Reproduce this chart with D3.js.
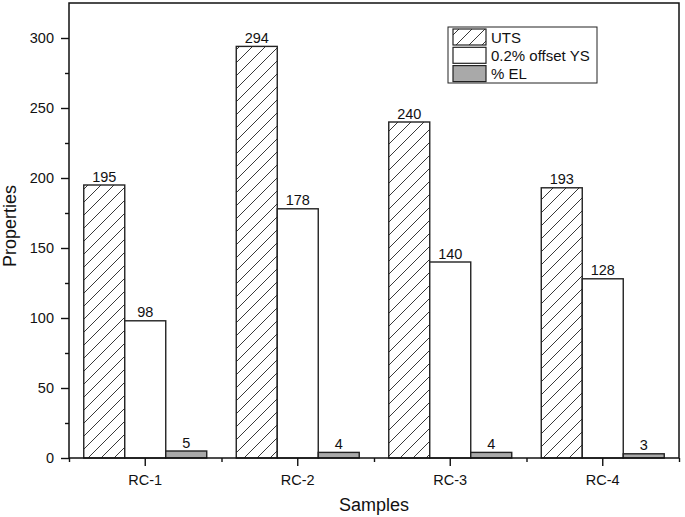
<!DOCTYPE html>
<html lang="en">
<head>
  <meta charset="UTF-8">
  <title>Properties by Sample</title>
  <script src="https://d3js.org/d3.v7.min.js"></script>
  <style>
    body {
      margin: 0;
      background: #fff;
      font-family: 'Liberation Sans', Arial, sans-serif;
    }
    .tick text { font-size: 14.5px; fill: #111; }
    .val { font-size: 14.5px; fill: #111; }
    .title { font-size: 18px; fill: #111; }
  </style>
</head>
<body>
<svg width="685" height="517"></svg>
<script>
  const samples = ["RC-1", "RC-2", "RC-3", "RC-4"];
  const seriesNames = ["UTS", "0.2% offset YS", "% EL"];
  const uts = [195, 294, 240, 193];
  const ys = [98, 178, 140, 128];
  const el = [5, 4, 4, 3];
  const yTicks = [0, 50, 100, 150, 200, 250, 300];

  const values = [uts, ys, el];
  const rows = [];
  samples.forEach((s, i) => {
    seriesNames.forEach((n, j) => rows.push({ sample: s, series: n, value: values[j][i] }));
  });

  const svg = d3.select("svg");
  const plot = { left: 69, right: 679, top: 3, bottom: 458 };

  // hatch pattern for UTS
  const defs = svg.append("defs");
  const pat = defs.append("pattern")
    .attr("id", "hatch")
    .attr("patternUnits", "userSpaceOnUse")
    .attr("width", 13)
    .attr("height", 13);
  pat.append("rect").attr("width", 13).attr("height", 13).attr("fill", "#fff");
  pat.append("path")
    .attr("d", "M-1,1 l2,-2 M0,13 l13,-13 M12,14 l2,-2")
    .attr("stroke", "#222")
    .attr("stroke-width", 0.9);

  const fills = { "UTS": "url(#hatch)", "0.2% offset YS": "#fff", "% EL": "#a9a9a9" };

  const x = d3.scaleBand().domain(samples).range([plot.left, plot.right]);
  const xi = d3.scaleBand().domain(seriesNames).range([0, x.bandwidth()]).paddingOuter(0.36);
  const y = d3.scaleLinear().domain([0, 325]).range([plot.bottom, plot.top]);

  // bars
  svg.append("g")
    .selectAll("rect")
    .data(rows)
    .join("rect")
    .attr("x", d => x(d.sample) + xi(d.series))
    .attr("y", d => y(d.value))
    .attr("width", xi.bandwidth())
    .attr("height", d => y(0) - y(d.value))
    .attr("fill", d => fills[d.series])
    .attr("stroke", "#222")
    .attr("stroke-width", 1.4);

  // value labels
  svg.append("g")
    .selectAll("text")
    .data(rows)
    .join("text")
    .attr("class", "val")
    .attr("x", d => x(d.sample) + xi(d.series) + xi.bandwidth() / 2)
    .attr("y", d => y(d.value) - 3.5)
    .attr("text-anchor", "middle")
    .text(d => d.value);

  // y axis
  svg.append("g")
    .attr("transform", `translate(${plot.left},0)`)
    .call(d3.axisLeft(y).tickValues(yTicks).tickSize(8).tickPadding(7));
  svg.append("g")
    .attr("transform", `translate(${plot.left},0)`)
    .call(d3.axisLeft(y).tickValues(d3.range(25, 325, 50)).tickSize(4).tickFormat(""));

  // x axis
  svg.append("g")
    .attr("transform", `translate(0,${plot.bottom})`)
    .call(d3.axisBottom(x).tickSize(8).tickPadding(9));
  svg.append("g")
    .attr("transform", `translate(0,${plot.bottom})`)
    .call(d3.axisBottom(d3.scaleLinear().domain([0, 4]).range([plot.left, plot.right]))
      .ticks(4).tickSize(4).tickFormat(""));

  svg.selectAll(".domain").remove();
  svg.selectAll(".tick line").attr("stroke", "#111").attr("stroke-width", 1.4);

  // frame
  svg.append("rect")
    .attr("x", plot.left).attr("y", plot.top)
    .attr("width", plot.right - plot.left).attr("height", plot.bottom - plot.top)
    .attr("fill", "none")
    .attr("stroke", "#111")
    .attr("stroke-width", 1.5);

  // axis titles
  svg.append("text")
    .attr("class", "title")
    .attr("x", (plot.left + plot.right) / 2)
    .attr("y", 511)
    .attr("text-anchor", "middle")
    .text("Samples");
  svg.append("text")
    .attr("class", "title")
    .attr("transform", "translate(16,226) rotate(-90)")
    .attr("text-anchor", "middle")
    .text("Properties");

  // legend
  const lg = svg.append("g").attr("transform", "translate(448,27)");
  lg.append("rect")
    .attr("width", 149).attr("height", 56)
    .attr("fill", "#fff").attr("stroke", "#222").attr("stroke-width", 1);
  seriesNames.forEach((n, i) => {
    lg.append("rect")
      .attr("x", 5).attr("y", 2 + i * 18.3)
      .attr("width", 33).attr("height", 16)
      .attr("fill", fills[n])
      .attr("stroke", "#222").attr("stroke-width", 1.2);
    lg.append("text")
      .attr("x", 43).attr("y", 15.5 + i * 18.3)
      .attr("font-size", "15px")
      .attr("fill", "#111")
      .text(n);
  });
</script>
</body>
</html>
